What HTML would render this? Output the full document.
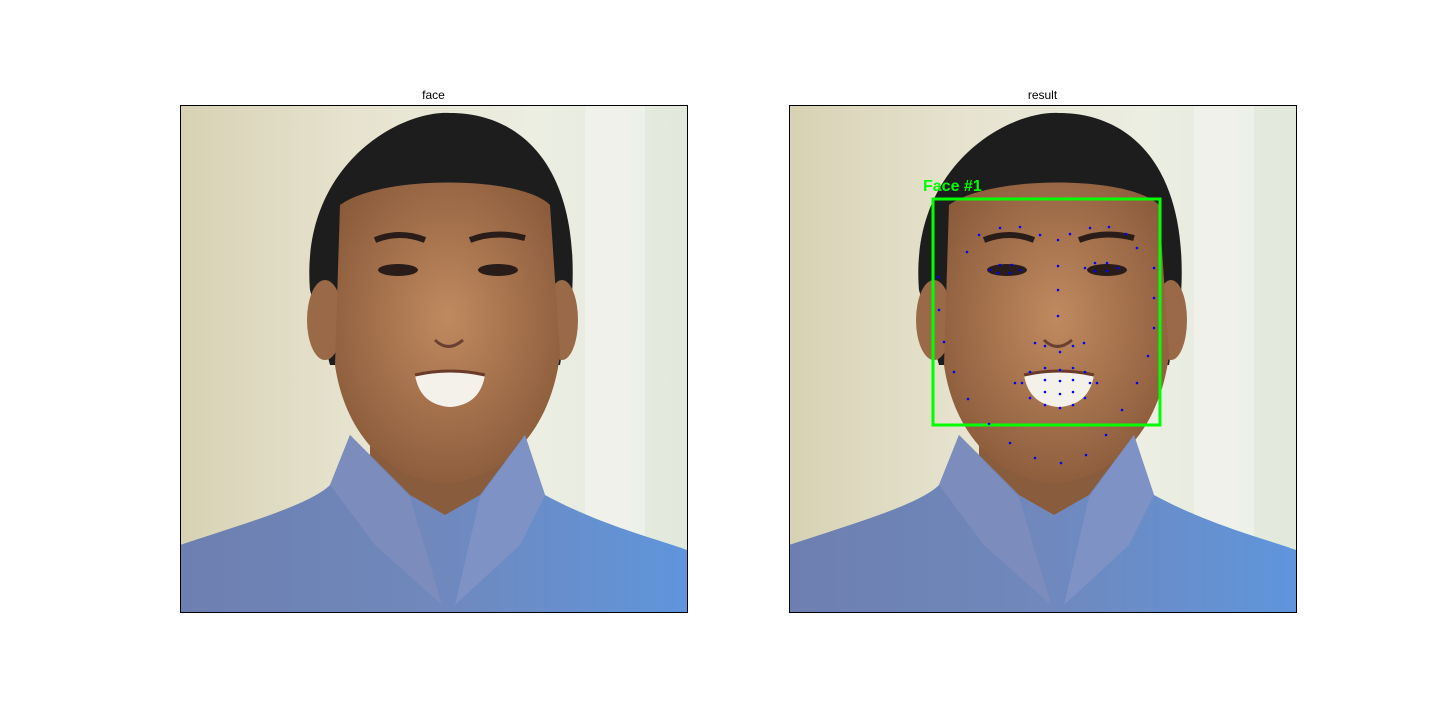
<!DOCTYPE html>
<html><head><meta charset="utf-8">
<style>
html,body{margin:0;padding:0;background:#fff;}
body{width:1440px;height:720px;overflow:hidden;font-family:"Liberation Sans","DejaVu Sans",sans-serif;}
</style></head>
<body>
<svg id="fig" width="1440" height="720" viewBox="0 0 1440 720" xmlns="http://www.w3.org/2000/svg">
<defs>
<linearGradient id="bg" x1="0" y1="0" x2="1" y2="0">
<stop offset="0" stop-color="#d8d2b4"/><stop offset="0.35" stop-color="#e6e3cf"/><stop offset="0.7" stop-color="#eceee2"/><stop offset="1" stop-color="#e2e8dc"/>
</linearGradient>
<linearGradient id="shirt" x1="0" y1="0" x2="1" y2="0">
<stop offset="0" stop-color="#6d7fb0"/><stop offset="0.5" stop-color="#7088bc"/><stop offset="1" stop-color="#5f95dc"/>
</linearGradient>
<radialGradient id="skin" cx="0.5" cy="0.45" r="0.6">
<stop offset="0" stop-color="#c08a60"/><stop offset="1" stop-color="#8a5a3a"/>
</radialGradient>
<g id="photo">
<rect x="0" y="0" width="507" height="507" fill="url(#bg)"/>
<rect x="405" y="0" width="60" height="507" fill="#f2f4ee" opacity="0.7"/>
<path d="M130,185 C120,60 220,5 270,8 C340,8 400,60 392,190 L380,260 L150,260 Z" fill="#1e1d1e"/>
<ellipse cx="145" cy="215" rx="18" ry="40" fill="#9a6a48"/>
<ellipse cx="382" cy="215" rx="16" ry="40" fill="#9a6a48"/>
<rect x="190" y="300" width="140" height="110" fill="#8a5c3e"/>
<path d="M160,100 C200,70 340,70 370,100 L380,250 C370,330 320,375 265,378 C210,375 165,330 155,260 Z" fill="url(#skin)"/>
<path d="M0,440 C60,420 130,400 150,380 L170,330 L230,390 L265,410 L300,390 L345,330 L365,390 C420,420 480,435 507,445 L507,507 L0,507 Z" fill="url(#shirt)"/>
<path d="M150,380 L170,330 L230,392 L262,500 L195,440 Z" fill="#7c8cbc"/>
<path d="M365,390 L345,330 L300,392 L275,500 L340,440 Z" fill="#7f92c6"/>
<ellipse cx="218" cy="165" rx="20" ry="6" fill="#2a1c18"/>
<ellipse cx="318" cy="165" rx="20" ry="6" fill="#2a1c18"/>
<path d="M195,135 Q220,125 245,135" stroke="#2a1c18" stroke-width="6" fill="none"/>
<path d="M290,135 Q315,125 345,133" stroke="#2a1c18" stroke-width="6" fill="none"/>
<path d="M235,270 Q270,265 305,270 Q300,300 270,302 Q240,300 235,270 Z" fill="#f4f0ea"/>
<path d="M235,270 Q270,262 305,270" stroke="#6a3a2a" stroke-width="3" fill="none"/>
<path d="M255,235 Q268,248 283,235" stroke="#6a4030" stroke-width="3" fill="none"/>
</g>
</defs>

<g>
<text x="433.5" y="99" font-size="12" text-anchor="middle" fill="#000">face</text>
<use href="#photo" x="180" y="105"/>
<rect x="180.5" y="105.5" width="507" height="507" fill="none" stroke="#000" stroke-width="1"/>
</g>

<g>
<text x="1042.5" y="99" font-size="12" text-anchor="middle" fill="#000">result</text>
<use href="#photo" x="789" y="105"/>
<g id="overlay"></g>
<rect x="789.5" y="105.5" width="507" height="507" fill="none" stroke="#000" stroke-width="1"/>
</g>
</svg>
<script>
// face box in image coords (relative to right axes origin)
const boxX=[144,371];
const boxY=[94,320];
const boxLabel="Face #1";
// landmark points (image coords)
const ptX=[149,150,155,165,179,200,221,246,272,297,317,333,348,359,365,365,365,
178,190,211,231,251,281,301,320,337,348,
269,269,269,269,246,256,271,284,295,
201,211,223,231,221,209,296,306,318,329,318,306,
226,241,256,271,284,296,308,296,284,271,256,241,233,256,271,284,301,284,271,256];
const ptY=[172,205,237,267,294,319,338,353,358,350,330,305,278,251,223,193,163,
147,130,123,122,130,129,123,122,129,143,
135,161,185,211,238,241,247,241,238,
165,160,160,165,168,168,163,158,158,163,166,166,
278,267,263,265,263,267,278,293,300,303,300,293,278,275,276,275,278,287,289,287];
const ox=789, oy=105;
const ov=document.getElementById('overlay');
const NS='http://www.w3.org/2000/svg';
const r=document.createElementNS(NS,'rect');
r.setAttribute('x',ox+boxX[0]);r.setAttribute('y',oy+boxY[0]);
r.setAttribute('width',boxX[1]-boxX[0]);r.setAttribute('height',boxY[1]-boxY[0]);
r.setAttribute('fill','none');r.setAttribute('stroke','#00ff00');r.setAttribute('stroke-width','3');


ov.appendChild(r);
const t=document.createElementNS(NS,'text');
t.setAttribute('x',ox+boxX[0]-10);t.setAttribute('y',oy+boxY[0]-8);
t.setAttribute('font-size','16');t.setAttribute('font-weight','bold');t.setAttribute('fill','#00ff00');
t.textContent=boxLabel;


ov.appendChild(t);
for(let i=0;i<ptX.length;i++){
 const c=document.createElementNS(NS,'circle');
 c.setAttribute('cx',ox+ptX[i]);c.setAttribute('cy',oy+ptY[i]);c.setAttribute('r','1.3');
 c.setAttribute('fill','#0000ff');
 
 
 ov.appendChild(c);
}
</script>
</body></html>
